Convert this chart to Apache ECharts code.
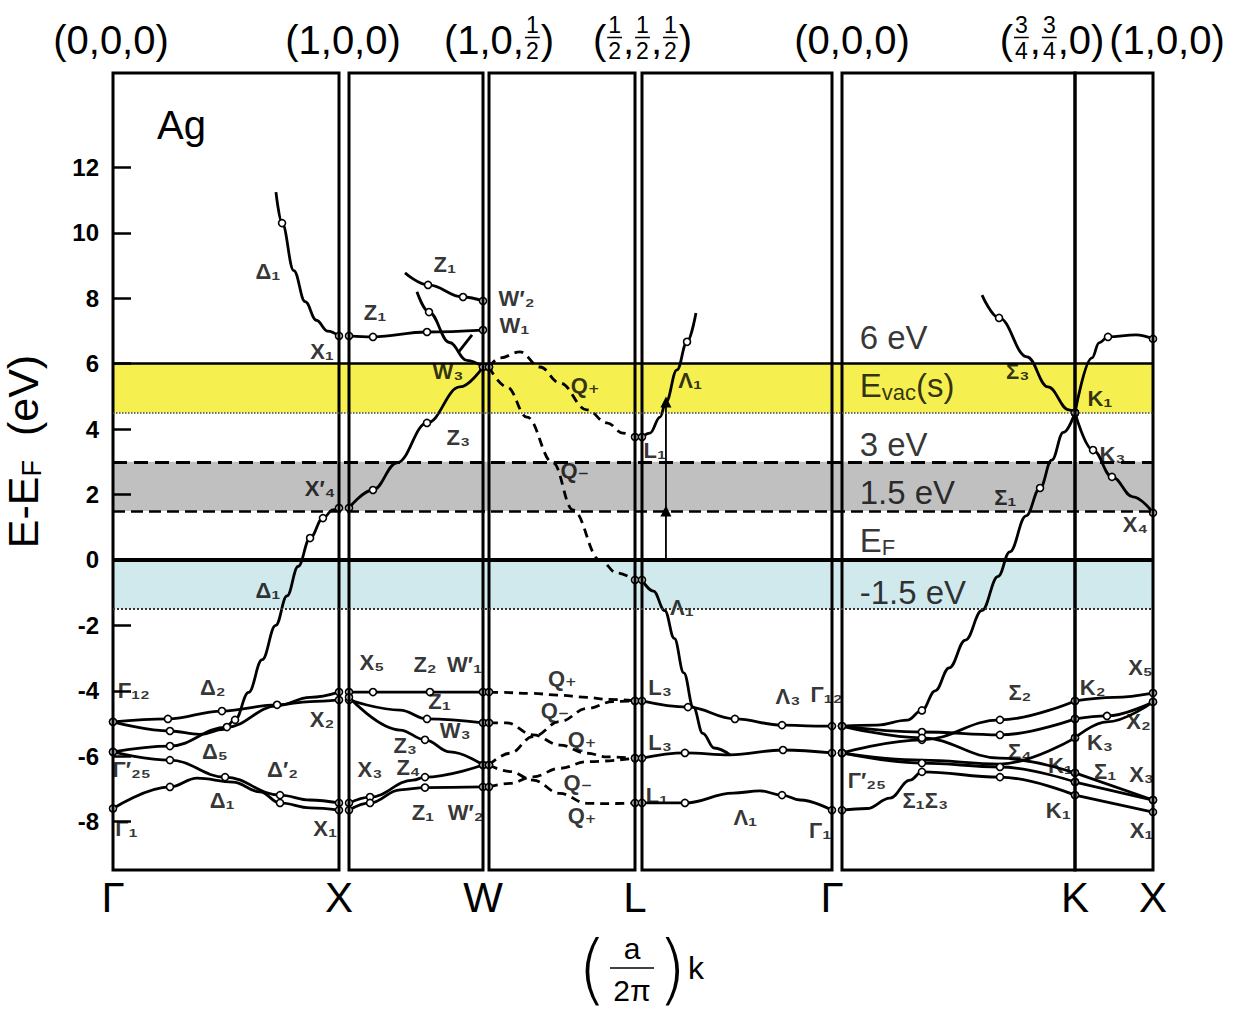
<!DOCTYPE html>
<html>
<head>
<meta charset="utf-8">
<script src="https://cdn.jsdelivr.net/npm/echarts@6/dist/echarts.min.js"></script>
<style>
html,body{margin:0;padding:0;background:#fff;}
#chart{width:1248px;height:1020px;}
</style>
</head>
<body>
<div id="chart"></div>
<script>
// ---------------- DATA ----------------
// high-symmetry points along the path (bottom labels)
const pointNames = ['Γ', 'X', 'W', 'L', 'Γ', 'K', 'X'];
// reciprocal-space coordinates above the points (arrays = stacked fractions)
const topLabels = [
  ['(', '0', ',', '0', ',', '0', ')'],
  ['(', '1', ',', '0', ',', '0', ')'],
  ['(', '1', ',', '0', ',', ['1', '2'], ')'],
  ['(', ['1', '2'], ',', ['1', '2'], ',', ['1', '2'], ')'],
  ['(', '0', ',', '0', ',', '0', ')'],
  ['(', ['3', '4'], ',', ['3', '4'], ',', '0', ')'],
  ['(', '1', ',', '0', ',', '0', ')']
];
// energy tick labels (eV)
const yTicks = [-8, -6, -4, -2, 0, 2, 4, 6, 8, 10, 12];
// reference energy levels (eV)
const levelBands = [[4.5, 6.0], [1.5, 3.0], [-1.5, 0]];
const levelLines = [6, 4.5, 3, 1.5, 0, -1.5];
const levelTexts = [['6 eV', 6.79], ['E{s|vac}(s)', 5.32], ['3 eV', 3.52], ['1.5 eV', 2.05], ['E{s|F}', 0.61], ['-1.5 eV', -0.98]];

// Bands: [fraction along segment, E - EF (eV)]
// Γ → X
const gx_D1up  = [[0.721,11.25],[0.748,10.3],[0.80,8.85],[0.85,7.9],[0.90,7.33],[0.95,7.0],[1,6.85]];
const gx_D1sp  = [[0,-4.95],[0.252,-5.23],[0.385,-5.33],[0.49,-5.18],[0.54,-4.89],[0.60,-4.05],[0.66,-3.05],[0.72,-2.0],[0.77,-1.1],[0.819,-0.2],[0.872,0.67],[0.929,1.28],[0.973,1.53],[1,1.59]];
const gx_D2    = [[0,-4.95],[0.243,-4.86],[0.482,-4.62],[0.726,-4.43],[0.872,-4.33],[1,-4.28]];
const gx_D5    = [[0,-5.87],[0.252,-5.69],[0.504,-5.11],[0.726,-4.46],[0.872,-4.2],[1,-4.04]];
const gx_D2p   = [[0,-5.87],[0.252,-6.12],[0.496,-6.64],[0.739,-7.19],[0.872,-7.34],[1,-7.43]];
const gx_D1low = [[0,-7.6],[0.252,-6.94],[0.372,-6.67],[0.531,-6.79],[0.650,-7.09],[0.739,-7.43],[0.872,-7.58],[1,-7.65]];
// X → W
const xw_Z1    = [[0,6.85],[0.179,6.82],[0.582,6.97],[1,7.03]];
const xw_Z1up  = [[0.418,8.78],[0.590,8.41],[0.851,8.04],[1,7.92]];
const xw_Zdown = [[0.507,8.2],[0.597,7.58],[0.75,6.65],[0.88,6.1],[1,5.9]];
const xw_Zlink = [[0.813,6.33],[0.918,6.88]];
const xw_Z3up  = [[0,1.59],[0.179,2.14],[0.358,2.97],[0.582,4.19],[0.828,5.29],[1,5.9]];
const xw_Z2    = [[0,-4.04],[0.179,-4.04],[0.604,-4.04],[1,-4.04]];
const xw_Z1d   = [[0,-4.28],[0.381,-4.59],[0.582,-4.86],[1,-4.98]];
const xw_Z3d   = [[0,-4.2],[0.381,-5.2],[0.567,-5.5],[0.754,-5.87],[1,-6.27]];
const xw_Z4    = [[0,-7.43],[0.157,-7.25],[0.478,-6.73],[0.567,-6.64],[1,-6.27]];
const xw_Z1low = [[0,-7.65],[0.157,-7.43],[0.381,-7.03],[0.567,-6.96],[1,-6.94]];
// W → L
const wl_Qp    = [[0,5.9],[0.075,6.18],[0.212,6.36],[0.349,5.9],[0.486,5.41],[0.671,4.59],[0.808,4.19],[0.918,3.88],[1,3.76]];
const wl_Qm    = [[0,5.9],[0.123,5.29],[0.260,4.37],[0.438,2.97],[0.575,1.53],[0.760,0],[0.877,-0.40],[1,-0.61]];
const wl_Qtop  = [[0,-4.04],[0.075,-4.05],[0.301,-4.08],[0.466,-4.13],[0.671,-4.20],[0.808,-4.26],[1,-4.31]];
const wl_Qrise = [[0,-6.27],[0.144,-5.91],[0.301,-5.40],[0.486,-4.94],[0.671,-4.54],[0.85,-4.33],[1,-4.31]];
const wl_Qdesc = [[0,-4.98],[0.123,-4.98],[0.301,-5.35],[0.486,-5.66],[0.671,-5.91],[0.808,-6.02],[1,-6.06]];
const wl_Qw2   = [[0,-6.94],[0.144,-6.83],[0.301,-6.63],[0.486,-6.37],[0.671,-6.17],[1,-6.06]];
const wl_Qbot  = [[0,-6.27],[0.144,-6.47],[0.301,-6.73],[0.486,-7.14],[0.671,-7.44],[0.808,-7.45],[1,-7.43]];
// L → Γ
const lg_L1up  = [[0,3.76],[0.042,3.88],[0.095,4.37],[0.126,4.83],[0.184,5.81],[0.237,6.67],[0.284,7.55]];
const lg_L2p   = [[0,-0.61],[0.06,-0.95],[0.12,-1.55],[0.17,-2.4],[0.22,-3.45],[0.27,-4.5],[0.32,-5.3],[0.38,-5.75],[0.463,-5.96]];
const lg_L3low = [[0,-6.06],[0.226,-5.9],[0.463,-5.96],[0.742,-5.81],[1,-5.9]];
const lg_L3up  = [[0,-4.31],[0.242,-4.5],[0.489,-4.86],[0.737,-5.05],[0.937,-5.08],[1,-5.08]];
const lg_L1low = [[0,-7.43],[0.226,-7.43],[0.479,-7.13],[0.621,-7.06],[0.737,-7.19],[0.832,-7.34],[1,-7.65]];
const lg_arrow = [[0.126,0],[0.126,1.5],[0.126,4.83]];
// Γ → K
const gk_S1sp  = [[0,-5.08],[0.15,-5.05],[0.28,-4.9],[0.343,-4.6],[0.40,-4.0],[0.46,-3.3],[0.53,-2.45],[0.60,-1.55],[0.67,-0.5],[0.72,0.25],[0.79,1.35],[0.85,2.2],[0.90,3.05],[0.95,3.9],[1,4.5]];
const gk_S3up  = [[0.601,8.10],[0.674,7.40],[0.794,6.21],[0.884,5.29],[0.974,4.59],[1,4.5]];
const gk_S2    = [[0,-5.9],[0.343,-5.5],[0.678,-4.89],[1,-4.31]];
const gk_S4    = [[0,-5.08],[0.343,-5.26],[0.678,-5.35],[1,-4.86]];
const gk_S4b   = [[0,-5.08],[0.343,-5.44],[0.678,-6.06],[1,-6.51]];
const gk_S1    = [[0,-5.9],[0.343,-6.21],[0.678,-6.33],[1,-6.79]];
const gk_S1low = [[0,-7.65],[0.107,-7.6],[0.206,-7.28],[0.292,-6.73],[0.343,-6.48],[0.678,-6.64],[1,-7.19]];
const gk_S3    = [[0,-5.9],[0.343,-6.12],[0.678,-6.24],[1,-5.44]];
// K → X
const kx_up    = [[0,4.5],[0.218,6.18],[0.308,6.64],[0.423,6.82],[0.782,6.88],[1,6.76]];
const kx_K3    = [[0,4.5],[0.231,3.36],[0.474,2.54],[0.744,1.93],[1,1.44]];
const kx_a     = [[0,-4.31],[0.5,-4.2],[1,-4.07]];
const kx_b     = [[0,-4.86],[0.41,-4.77],[1,-4.34]];
const kx_c     = [[0,-5.44],[0.41,-4.95],[1,-4.34]];
const kx_d     = [[0,-6.51],[1,-7.34]];
const kx_e     = [[0,-6.79],[1,-7.34]];
const kx_f     = [[0,-7.19],[1,-7.71]];

// band symmetry labels: [text, fraction of whole path, E (eV)]
const bandLabels = [
 ['Δ₁',0.149,8.81],['X₁',0.201,6.36],['Z₁',0.252,7.58],['Z₁',0.319,9.02],['W′₂',0.388,8.01],['W₁',0.386,7.16],
 ['W₃',0.322,5.75],['Z₃',0.332,3.73],['X′₄',0.199,2.20],['Q₊',0.454,5.32],['Q₋',0.444,2.75],['Λ₁',0.555,5.50],
 ['L₁',0.521,3.36],['Δ₁',0.149,-0.92],['Λ₁',0.547,-1.44],['Σ₃',0.870,5.75],['K₁',0.949,4.95],['K₃',0.961,3.21],
 ['Σ₁',0.858,1.90],['X₄',0.983,1.07],
 ['Γ₁₂',0.020,-3.98],['Δ₂',0.096,-3.91],['X₂',0.201,-4.89],['X₅',0.249,-3.15],['Z₂',0.300,-3.21],['W′₁',0.338,-3.21],
 ['Z₁',0.314,-4.34],['W₃',0.329,-5.20],['Z₃',0.281,-5.66],['Z₄',0.284,-6.36],['X₃',0.247,-6.42],['Δ₅',0.098,-5.87],
 ['Γ′₂₅',0.018,-6.42],['Δ′₂',0.163,-6.42],['Δ₁',0.105,-7.34],['Γ₁',0.013,-8.20],['X₁',0.204,-8.20],['Z₁',0.298,-7.71],
 ['W′₂',0.339,-7.71],['Q₊',0.432,-3.61],['Q₋',0.425,-4.59],['Q₊',0.451,-5.50],['Q₋',0.447,-6.79],['Q₊',0.451,-7.80],
 ['L₃',0.526,-3.91],['L₃',0.526,-5.57],['L₁',0.523,-7.19],['Λ₃',0.649,-4.19],['Γ₁₂',0.686,-4.10],['Λ₁',0.608,-7.86],
 ['Γ₁',0.680,-8.26],['Γ′₂₅',0.725,-6.73],['Σ₁Σ₃',0.781,-7.34],['Σ₂',0.872,-4.04],['K₂',0.942,-3.91],['X₅',0.988,-3.30],
 ['X₂',0.986,-4.95],['K₃',0.949,-5.57],['Σ₄',0.872,-5.87],['K₁',0.911,-6.27],['Σ₁',0.954,-6.48],['X₃',0.989,-6.57],
 ['K₁',0.909,-7.65],['X₁',0.989,-8.26]
];

// ---------------- LAYOUT / STYLE ----------------
const Y_MIN = -9.48, Y_MAX = 14.89;
const GRID_TOP = 73, GRID_H = 797;
const panelPx = [[113,339],[349,483],[489,635],[642,832],[842,1075],[1075,1153]];
const FONT = '"Liberation Sans", "DejaVu Sans", Arial, sans-serif';
const NARROW = '"Liberation Sans Narrow", "Liberation Sans", Arial, sans-serif';

// band entry: [data, start circle, end circle, extra circle indices]
const panels = [
  {bands: [[gx_D1up,false,true,[1]],[gx_D1sp,true,true,[1,4,10,11]],[gx_D2,true,true,[1,2,3]],[gx_D5,true,true,[1,2]],[gx_D2p,true,true,[1,2,3]],[gx_D1low,true,true,[1,5]]], dashed:false, labels:{0:'Γ',1:'X'}},
  {bands: [[xw_Z1,true,true,[1,2]],[xw_Z1up,false,true,[1,2]],[xw_Zdown,false,true,[1]],[xw_Zlink,false,false],[xw_Z3up,true,true,[1,3]],[xw_Z2,true,true,[1,2]],[xw_Z1d,true,true,[2]],[xw_Z3d,true,true,[2]],[xw_Z4,true,true,[1,3]],[xw_Z1low,true,true,[1,3]]], dashed:false, labels:{1:'W'}},
  {bands: [[wl_Qp],[wl_Qm],[wl_Qtop],[wl_Qrise],[wl_Qdesc],[wl_Qw2],[wl_Qbot]], dashed:true, labels:{1:'L'}},
  {bands: [[lg_L1up,true,false,[5]],[lg_L2p,true,false],[lg_L3low,true,true,[1,3]],[lg_L3up,true,true,[1,2,3]],[lg_L1low,true,true,[1,4]]], dashed:false, labels:{1:'Γ'}},
  {bands: [[gk_S1sp,true,true,[3,11]],[gk_S3up,false,true,[1]],[gk_S2,true,true,[1,2]],[gk_S4,true,true,[1,2]],[gk_S4b,true,true,[1]],[gk_S1,true,true,[1,2]],[gk_S1low,true,true,[4,5]],[gk_S3]], dashed:false, labels:{1:'K'}},
  {bands: [[kx_up,true,true,[3]],[kx_K3,true,true,[1,2]],[kx_a],[kx_b,true,true,[1]],[kx_c],[kx_d],[kx_e],[kx_f]], dashed:false, labels:{1:'X'}}
];

const grids = [{left:panelPx[0][0], width:panelPx[5][1]-panelPx[0][0], top:GRID_TOP, height:GRID_H, show:false}];
const xAxes = [{gridIndex:0, type:'value', min:0, max:1, show:false}];
const yAxes = [{gridIndex:0, type:'value', min:Y_MIN, max:Y_MAX, show:false}];
const series = [];

// background levels
series.push({
  type:'line', xAxisIndex:0, yAxisIndex:0, data:[], z:1, silent:true,
  markArea:{silent:true, data:[
    [{yAxis:levelBands[0][0], itemStyle:{color:'#f5f050'}},{yAxis:levelBands[0][1]}],
    [{yAxis:levelBands[1][0], itemStyle:{color:'#c0c0c0'}},{yAxis:levelBands[1][1]}],
    [{yAxis:levelBands[2][0], itemStyle:{color:'#d0e9ec'}},{yAxis:levelBands[2][1]}]
  ]},
  markLine:{silent:true, symbol:['none','none'], label:{show:false}, data:[
    {yAxis:levelLines[0], lineStyle:{color:'#000', width:2.5, type:'solid'}},
    {yAxis:levelLines[1], lineStyle:{color:'#444', width:1.5, type:'dotted'}},
    {yAxis:levelLines[2], lineStyle:{color:'#000', width:3, type:[14,7]}},
    {yAxis:levelLines[3], lineStyle:{color:'#000', width:2.5, type:[12,6]}},
    {yAxis:levelLines[4], lineStyle:{color:'#000', width:4, type:'solid'}},
    {yAxis:levelLines[5], lineStyle:{color:'#333', width:2, type:'dotted'}}
  ]}
});

panels.forEach((p, i) => {
  const gi = i + 1;
  const [l, r] = panelPx[i];
  grids.push({left:l, width:r-l, top:GRID_TOP, height:GRID_H, show:true, borderColor:'#000', borderWidth:3, backgroundColor:'transparent', z:5});
  const vals = Object.keys(p.labels).map(Number);
  xAxes.push({gridIndex:gi, type:'value', min:0, max:1, position:'bottom',
    axisLine:{show:false}, axisTick:{show:false}, splitLine:{show:false},
    axisLabel:{show:true, customValues:vals, formatter:(v)=>p.labels[v] || '', fontSize:42, fontFamily:FONT, color:'#000', margin:6}});
  yAxes.push({gridIndex:gi, type:'value', min:Y_MIN, max:Y_MAX, z:6,
    show: gi === 1,
    name: gi === 1 ? 'E-E{s|F}  (eV)' : '',
    nameLocation:'middle', nameRotate:90, nameGap:68,
    nameTextStyle:{fontSize:43, fontFamily:FONT, color:'#000', padding:[0,0,0,40], rich:{s:{fontSize:27, fontFamily:FONT, padding:[18,0,0,0]}}},
    axisLine:{show:false}, splitLine:{show:false},
    axisTick:{show:true, inside:true, length:18, customValues:yTicks, lineStyle:{color:'#000', width:2.5}},
    axisLabel:{show:true, customValues:yTicks, fontSize:24, fontWeight:'bold', fontFamily:FONT, color:'#000', margin:14}
  });
  p.bands.forEach(b => {
    const data = b[0];
    const startMark = b.length > 1 ? b[1] : true;
    const endMark = b.length > 2 ? b[2] : true;
    const extra = b.length > 3 ? b[3] : [];
    const last = data.length - 1;
    const marked = (k) => (k === 0 && startMark) || (k === last && endMark) || extra.indexOf(k) >= 0;
    series.push({
      type:'line', xAxisIndex:gi, yAxisIndex:gi, data:data, z:3, silent:true,
      smooth:0.4, smoothMonotone:'x', showSymbol:true, showAllSymbol:true, symbol:'circle',
      symbolSize:(v, prm) => marked(prm.dataIndex) ? 7 : 0,
      itemStyle:{color:'#fff', borderColor:'#000', borderWidth:1.6},
      lineStyle:{color:'#000', width:2.8, type: p.dashed ? [9,6] : 'solid'}
    });
  });
});

// transition arrow at L
series.push({
  type:'line', xAxisIndex:4, yAxisIndex:4, data:lg_arrow, z:4, silent:true,
  symbol:(v, prm) => prm.dataIndex === 0 ? 'none' : 'triangle', symbolSize:11, showAllSymbol:true,
  itemStyle:{color:'#000'}, lineStyle:{color:'#000', width:1.8}
});

// band symmetry labels
series.push({
  type:'scatter', xAxisIndex:0, yAxisIndex:0, symbolSize:0, z:4, silent:true,
  data: bandLabels.map(d => ({name:d[0], value:[d[1], d[2]]})),
  label:{show:true, position:'inside', formatter:'{b}', fontSize:22, fontWeight:'bold', fontFamily:FONT, color:'#000'}
});
// level labels
series.push({
  type:'scatter', xAxisIndex:0, yAxisIndex:0, symbolSize:0, z:4, silent:true,
  data: levelTexts.map(d => ({name:d[0], value:[0.718, d[1]]})),
  label:{show:true, position:'right', distance:0, formatter:'{b}', fontSize:33, fontFamily:FONT, color:'#000',
    rich:{s:{fontSize:22, fontFamily:FONT, color:'#000', padding:[14,0,0,0]}}}
});

const chart = echarts.init(document.getElementById('chart'), null, {renderer:'svg'});
chart.setOption({
  animation:false,
  backgroundColor:'#fff',
  title:{text:'Ag', left:152, top:100, textStyle:{fontSize:40, fontWeight:'normal', fontFamily:FONT, color:'#000'}},
  grid:grids, xAxis:xAxes, yAxis:yAxes, series:series
});

// ------- top coordinate labels & x-axis name (stacked fractions) -------
function px(gi, f){ return chart.convertToPixel({gridIndex:gi}, [f, 0])[0]; }
const anchors = [px(1,0), (px(1,1)+px(2,0))/2, (px(2,1)+px(3,0))/2, (px(3,1)+px(4,0))/2, (px(4,1)+px(5,0))/2, px(5,1), px(6,1)];
const topOffsets = [-2, -1, 13, 4, 15, -23, 14];
const ctx = document.createElement('canvas').getContext('2d');
const mainFont = '40px ' + NARROW;
const fracFont = '23px ' + NARROW;
const gEls = [];
function txt(x, y, text, font, align){
  return {type:'text', x:x, y:y, silent:true, style:{text:text, font:font, fill:'#000', align:align||'left', textAlign:align||'left', verticalAlign:'middle', textVerticalAlign:'middle'}};
}
topLabels.forEach((tokens, i) => {
  let w = 0; const parts = [];
  tokens.forEach(t => {
    if (Array.isArray(t)) {
      ctx.font = fracFont;
      const fw = Math.max(ctx.measureText(t[0]).width, ctx.measureText(t[1]).width) + 4;
      parts.push({frac:t, x:w, w:fw}); w += fw;
    } else {
      ctx.font = mainFont;
      const tw = ctx.measureText(t).width;
      parts.push({text:t, x:w, w:tw}); w += tw;
    }
  });
  const x0 = anchors[i] + topOffsets[i] - w/2;
  parts.forEach(p => {
    if (p.text) gEls.push(txt(x0+p.x, 40, p.text, mainFont));
    else {
      const cx = x0 + p.x + p.w/2;
      gEls.push(txt(cx, 25, p.frac[0], fracFont, 'center'));
      gEls.push({type:'line', silent:true, shape:{x1:x0+p.x+1, y1:37.5, x2:x0+p.x+p.w-1, y2:37.5}, style:{stroke:'#000', lineWidth:1.5}});
      gEls.push(txt(cx, 51, p.frac[1], fracFont, 'center'));
    }
  });
});
// x-axis name: (a / 2π) k
const nameCx = 632, nameCy = 968;
const parenFont = '200 76px "DejaVu Sans", ' + NARROW;
gEls.push(txt(nameCx-40, nameCy, '(', parenFont, 'center'));
gEls.push(txt(nameCx, nameCy-20, 'a', '30px ' + FONT, 'center'));
gEls.push({type:'line', silent:true, shape:{x1:nameCx-22, y1:nameCy, x2:nameCx+22, y2:nameCy}, style:{stroke:'#000', lineWidth:1.5}});
gEls.push(txt(nameCx, nameCy+22, '2π', '30px ' + FONT, 'center'));
gEls.push(txt(nameCx+40, nameCy, ')', parenFont, 'center'));
gEls.push(txt(nameCx+56, nameCy, 'k', '32px ' + FONT, 'left'));
chart.setOption({graphic:{elements:gEls}});
</script>
</body>
</html>
